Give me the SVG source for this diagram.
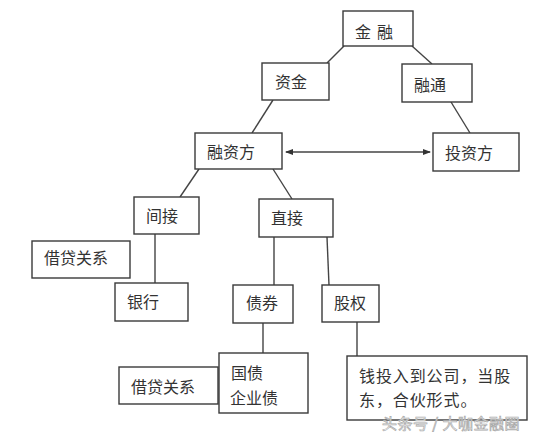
<svg xmlns="http://www.w3.org/2000/svg" width="536" height="432" viewBox="0 0 536 432">
<style>
.box{fill:#fff;stroke:#3a3a3a;stroke-width:1.4}
.t{font-family:"Noto Sans CJK SC","Noto Sans",sans-serif;font-size:16px;fill:#333}
.c{stroke:#444;stroke-width:1.4;fill:none}
.wm{font-family:"Noto Sans CJK SC","Noto Sans",sans-serif;font-size:15px;fill:#fff;stroke:#aaa;stroke-width:0.7}
</style>
<defs>
<marker id="ah" markerWidth="8" markerHeight="6" refX="7" refY="3" orient="auto-start-reverse" markerUnits="userSpaceOnUse">
<path d="M0,0 L8,3 L0,6 z" fill="#333"/>
</marker>
</defs>
<rect width="536" height="432" fill="#fff"/>
<g id="connectors">
<line class="c" x1="344" y1="46" x2="327" y2="63"/>
<line class="c" x1="412" y1="46" x2="432" y2="64"/>
<line class="c" x1="451" y1="102" x2="470" y2="133"/>
<line class="c" x1="273" y1="100" x2="252" y2="133"/>
<line class="c" x1="286" y1="152" x2="430" y2="152" marker-start="url(#ah)" marker-end="url(#ah)"/>
<line class="c" x1="199" y1="169" x2="180" y2="197"/>
<line class="c" x1="273" y1="169" x2="292" y2="199"/>
<line class="c" x1="155" y1="234" x2="155" y2="283"/>
<line class="c" x1="274" y1="237" x2="274" y2="285"/>
<line class="c" x1="327" y1="237" x2="329" y2="285"/>
<line class="c" x1="263" y1="323" x2="263" y2="353"/>
<line class="c" x1="357" y1="322" x2="357" y2="357"/>
</g>
<g id="n-jinrong"><rect class="box" x="343" y="11" width="70" height="35"/><text class="t" y="38"><tspan x="355">金</tspan><tspan x="377">融</tspan></text></g>
<g id="n-zijin"><rect class="box" x="262" y="63" width="67" height="37"/><text class="t" x="275" y="88">资金</text></g>
<g id="n-rongtong"><rect class="box" x="402" y="64" width="70" height="38"/><text class="t" x="414" y="91">融通</text></g>
<g id="n-touzifang"><rect class="box" x="433" y="133" width="86" height="38"/><text class="t" x="445" y="159">投资方</text></g>
<g id="n-rongzifang"><rect class="box" x="195" y="133" width="87" height="36"/><text class="t" x="207" y="158">融资方</text></g>
<g id="n-jianjie"><rect class="box" x="134" y="197" width="65" height="37"/><text class="t" x="146" y="222">间接</text></g>
<g id="n-zhijie"><rect class="box" x="259" y="199" width="74" height="38"/><text class="t" x="271" y="224">直接</text></g>
<g id="n-jiedai1"><rect class="box" x="32" y="241" width="98" height="37"/><text class="t" x="44" y="264">借贷关系</text></g>
<g id="n-yinhang"><rect class="box" x="115" y="283" width="73" height="38"/><text class="t" x="127" y="308">银行</text></g>
<g id="n-zhaiquan"><rect class="box" x="233" y="285" width="60" height="38"/><text class="t" x="246" y="309">债券</text></g>
<g id="n-guquan"><rect class="box" x="322" y="285" width="57" height="37"/><text class="t" x="334" y="309">股权</text></g>
<g id="n-jiedai2"><rect class="box" x="119" y="367" width="99" height="37"/><text class="t" x="131" y="393">借贷关系</text></g>
<g id="n-guozhai"><rect class="box" x="219" y="353" width="89" height="60"/><text class="t" x="231" y="379">国债</text><text class="t" x="230" y="404">企业债</text></g>
<g id="n-qian"><rect class="box" x="347" y="356" width="180" height="64"/><text class="t" x="359" y="382" letter-spacing="0.9">钱投入到公司，当股</text><text class="t" x="359" y="406" letter-spacing="0.9">东，合伙形式。</text></g>
<text class="wm" x="382" y="429" letter-spacing="0.5">头条号 / 大咖金融圈</text>
</svg>
